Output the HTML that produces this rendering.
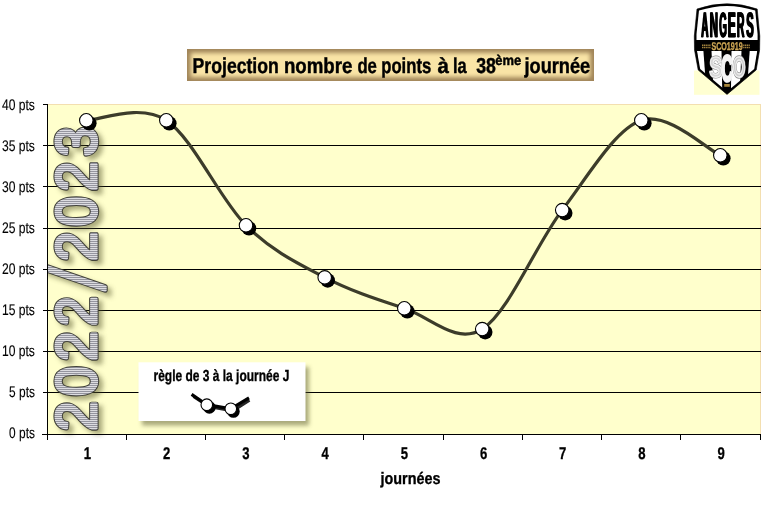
<!DOCTYPE html>
<html>
<head>
<meta charset="utf-8">
<title>Projection nombre de points</title>
<style>
html,body{margin:0;padding:0;background:#fff;}
body{width:771px;height:507px;overflow:hidden;font-family:"Liberation Sans",sans-serif;}
svg{display:block;will-change:transform;text-rendering:geometricPrecision;font-family:"Liberation Sans",sans-serif;}
</style>
</head>
<body>
<svg width="771" height="507" viewBox="0 0 771 507">
<defs>
  <pattern id="stripes" patternUnits="userSpaceOnUse" x="0" y="0" width="4" height="2" patternTransform="scale(1.0753,1) rotate(90)">
    <rect x="0" y="0" width="4" height="2" fill="#e4e4e8"/>
    <rect x="0" y="0" width="4" height="0.9" fill="#858590"/>
  </pattern>
  <clipPath id="plotclip"><rect x="48" y="100" width="720" height="345"/></clipPath>
  <filter id="softsh" x="-20%" y="-20%" width="150%" height="150%">
    <feGaussianBlur stdDeviation="2.9"/>
  </filter>
  <filter id="boxsh" x="-20%" y="-20%" width="150%" height="160%">
    <feGaussianBlur stdDeviation="2"/>
  </filter>
  <filter id="titleblur" x="-5%" y="-30%" width="110%" height="160%">
    <feGaussianBlur stdDeviation="2.1"/>
  </filter>
  <clipPath id="titleclip"><rect x="187" y="49" width="407" height="32"/></clipPath>
  <clipPath id="shieldclip"><path d="M696.6,30 L757.5,30 L757.4,50 L754.2,69 L727,91.6 L700.2,69 L696.7,50 Z"/></clipPath>
</defs>

<rect x="0" y="0" width="771" height="507" fill="#ffffff"/>

<!-- logo background -->
<rect x="694" y="70.5" width="65.5" height="24.3" fill="#ffffd2"/>

<!-- plot area -->
<rect x="47.5" y="104.5" width="713" height="330" fill="#ffffcc"/>
<line x1="47" y1="104.5" x2="761" y2="104.5" stroke="#f3dfb0" stroke-width="1"/>
<line x1="760.5" y1="104" x2="760.5" y2="435" stroke="#f3dfb0" stroke-width="1"/>

<!-- gridlines -->
<g shape-rendering="crispEdges">
<line x1="47.5" y1="392.5" x2="760.5" y2="392.5" stroke="#000" stroke-width="1"/>
<line x1="47.5" y1="351.5" x2="760.5" y2="351.5" stroke="#000" stroke-width="1"/>
<line x1="47.5" y1="310.5" x2="760.5" y2="310.5" stroke="#000" stroke-width="1"/>
<line x1="47.5" y1="269.5" x2="760.5" y2="269.5" stroke="#000" stroke-width="1"/>
<line x1="47.5" y1="228.5" x2="760.5" y2="228.5" stroke="#000" stroke-width="1"/>
<line x1="47.5" y1="186.5" x2="760.5" y2="186.5" stroke="#000" stroke-width="1"/>
<line x1="47.5" y1="145.5" x2="760.5" y2="145.5" stroke="#000" stroke-width="1"/>

</g>

<!-- vertical watermark text -->
<g clip-path="url(#plotclip)">
<g transform="translate(96.0,431) rotate(-90) scale(0.93,1)">
  <g filter="url(#softsh)" opacity="0.5" transform="translate(-4,4)" fill="#55552a" stroke="#55552a" stroke-width="5.0">
    <text font-size="57.2" x="0.11 37.74 75.38 113.01 182.47 220.11 257.74 295.38" y="0">20222023</text>
    <path d="M151.29,9.10 L155.27,9.10 L177.99,-52.00 L174.01,-52.00 Z"/>
  </g>
  <g fill="#42423a" stroke="#42423a" stroke-width="5.3" stroke-linejoin="round">
    <text font-size="57.2" x="0.11 37.74 75.38 113.01 182.47 220.11 257.74 295.38" y="0">20222023</text>
    <path d="M151.29,9.10 L155.27,9.10 L177.99,-52.00 L174.01,-52.00 Z"/>
  </g>
  <g fill="url(#stripes)" stroke="url(#stripes)" stroke-width="3.2" stroke-linejoin="round">
    <text font-size="57.2" x="0.11 37.74 75.38 113.01 182.47 220.11 257.74 295.38" y="0">20222023</text>
    <path d="M151.29,9.10 L155.27,9.10 L177.99,-52.00 L174.01,-52.00 Z"/>
  </g>
</g>
</g>

<!-- legend box -->
<rect x="142" y="367" width="167" height="58.5" fill="#55552a" opacity="0.5" filter="url(#boxsh)"/>
<rect x="138.5" y="362.3" width="167" height="58.7" fill="#ffffff"/>
<text x="153.5" y="381" font-size="16" font-weight="bold" textLength="135.8" lengthAdjust="spacingAndGlyphs" stroke="#000" stroke-width="0.35">règle de 3 à la journée J</text>
<path d="M193.5,396.5 L208.8,406.7 L232.8,410.8 L249.5,400.2" fill="none" stroke="#000" stroke-width="3" opacity="0.85"/>
<path d="M191.6,394.4 L206.8,404.7 L230.8,408.8 L249,397.8" fill="none" stroke="#000" stroke-width="3.2"/>
<circle cx="209.4" cy="407.4" r="6.3" fill="#000"/>
<circle cx="233.4" cy="411.5" r="6.3" fill="#000"/>
<circle cx="206.8" cy="404.7" r="5.8" fill="#fff" stroke="#000" stroke-width="1.1"/>
<circle cx="230.8" cy="408.8" r="5.8" fill="#fff" stroke="#000" stroke-width="1.1"/>

<!-- data line -->
<path d="M86.30,120.30 C99.63,120.30 139.68,102.80 166.30,120.30 C192.92,137.80 219.60,199.12 246.00,225.30 C272.40,251.48 298.32,263.57 324.70,277.40 C351.08,291.23 378.05,299.68 404.30,308.30 C430.55,316.92 455.88,345.47 482.20,329.10 C508.52,312.73 535.68,244.90 562.20,210.10 C588.72,175.30 614.95,129.43 641.30,120.30 C667.65,111.17 707.13,149.47 720.30,155.30" fill="none" stroke="#3c3c2a" stroke-width="3.2" stroke-linecap="round" stroke-linejoin="round"/>
<circle cx="89.30" cy="123.30" r="7.3" fill="#000"/>
<circle cx="169.30" cy="123.30" r="7.3" fill="#000"/>
<circle cx="249.00" cy="228.30" r="7.3" fill="#000"/>
<circle cx="327.70" cy="280.40" r="7.3" fill="#000"/>
<circle cx="407.30" cy="311.30" r="7.3" fill="#000"/>
<circle cx="485.20" cy="332.10" r="7.3" fill="#000"/>
<circle cx="565.20" cy="213.10" r="7.3" fill="#000"/>
<circle cx="644.30" cy="123.30" r="7.3" fill="#000"/>
<circle cx="723.30" cy="158.30" r="7.3" fill="#000"/>

<circle cx="86.30" cy="120.30" r="6.75" fill="#fff" stroke="#000" stroke-width="1.1"/>
<circle cx="166.30" cy="120.30" r="6.75" fill="#fff" stroke="#000" stroke-width="1.1"/>
<circle cx="246.00" cy="225.30" r="6.75" fill="#fff" stroke="#000" stroke-width="1.1"/>
<circle cx="324.70" cy="277.40" r="6.75" fill="#fff" stroke="#000" stroke-width="1.1"/>
<circle cx="404.30" cy="308.30" r="6.75" fill="#fff" stroke="#000" stroke-width="1.1"/>
<circle cx="482.20" cy="329.10" r="6.75" fill="#fff" stroke="#000" stroke-width="1.1"/>
<circle cx="562.20" cy="210.10" r="6.75" fill="#fff" stroke="#000" stroke-width="1.1"/>
<circle cx="641.30" cy="120.30" r="6.75" fill="#fff" stroke="#000" stroke-width="1.1"/>
<circle cx="720.30" cy="155.30" r="6.75" fill="#fff" stroke="#000" stroke-width="1.1"/>


<!-- axes -->
<g shape-rendering="crispEdges">
<line x1="47.5" y1="104" x2="47.5" y2="440" stroke="#000" stroke-width="1"/>
<line x1="42" y1="434.5" x2="761" y2="434.5" stroke="#000" stroke-width="1"/>
<line x1="42.5" y1="434.5" x2="47.5" y2="434.5" stroke="#000" stroke-width="1"/>
<line x1="42.5" y1="392.5" x2="47.5" y2="392.5" stroke="#000" stroke-width="1"/>
<line x1="42.5" y1="351.5" x2="47.5" y2="351.5" stroke="#000" stroke-width="1"/>
<line x1="42.5" y1="310.5" x2="47.5" y2="310.5" stroke="#000" stroke-width="1"/>
<line x1="42.5" y1="269.5" x2="47.5" y2="269.5" stroke="#000" stroke-width="1"/>
<line x1="42.5" y1="228.5" x2="47.5" y2="228.5" stroke="#000" stroke-width="1"/>
<line x1="42.5" y1="186.5" x2="47.5" y2="186.5" stroke="#000" stroke-width="1"/>
<line x1="42.5" y1="145.5" x2="47.5" y2="145.5" stroke="#000" stroke-width="1"/>
<line x1="42.5" y1="104.5" x2="47.5" y2="104.5" stroke="#000" stroke-width="1"/>

<line x1="47.5" y1="434.5" x2="47.5" y2="439.5" stroke="#000" stroke-width="1"/>
<line x1="126.5" y1="434.5" x2="126.5" y2="439.5" stroke="#000" stroke-width="1"/>
<line x1="205.5" y1="434.5" x2="205.5" y2="439.5" stroke="#000" stroke-width="1"/>
<line x1="284.5" y1="434.5" x2="284.5" y2="439.5" stroke="#000" stroke-width="1"/>
<line x1="363.5" y1="434.5" x2="363.5" y2="439.5" stroke="#000" stroke-width="1"/>
<line x1="443.5" y1="434.5" x2="443.5" y2="439.5" stroke="#000" stroke-width="1"/>
<line x1="522.5" y1="434.5" x2="522.5" y2="439.5" stroke="#000" stroke-width="1"/>
<line x1="601.5" y1="434.5" x2="601.5" y2="439.5" stroke="#000" stroke-width="1"/>
<line x1="680.5" y1="434.5" x2="680.5" y2="439.5" stroke="#000" stroke-width="1"/>
<line x1="760.5" y1="434.5" x2="760.5" y2="439.5" stroke="#000" stroke-width="1"/>

</g>
<g fill="#000">
<g stroke="#000" stroke-width="0.12">
<text x="9.1" y="438.3" textLength="25.8" lengthAdjust="spacingAndGlyphs" font-size="15.4">0 pts</text>
<text x="9.1" y="397.2" textLength="25.8" lengthAdjust="spacingAndGlyphs" font-size="15.4">5 pts</text>
<text x="1.9" y="356.2" textLength="33.0" lengthAdjust="spacingAndGlyphs" font-size="15.4">10 pts</text>
<text x="1.9" y="315.1" textLength="33.0" lengthAdjust="spacingAndGlyphs" font-size="15.4">15 pts</text>
<text x="1.9" y="274.1" textLength="33.0" lengthAdjust="spacingAndGlyphs" font-size="15.4">20 pts</text>
<text x="1.9" y="233.1" textLength="33.0" lengthAdjust="spacingAndGlyphs" font-size="15.4">25 pts</text>
<text x="1.9" y="192.0" textLength="33.0" lengthAdjust="spacingAndGlyphs" font-size="15.4">30 pts</text>
<text x="1.9" y="150.9" textLength="33.0" lengthAdjust="spacingAndGlyphs" font-size="15.4">35 pts</text>
<text x="1.9" y="109.9" textLength="33.0" lengthAdjust="spacingAndGlyphs" font-size="15.4">40 pts</text>
</g>
<text x="83.8" y="459" textLength="7.3" lengthAdjust="spacingAndGlyphs" font-size="17" font-weight="bold" stroke="#000" stroke-width="0.3">1</text>
<text x="163.0" y="459" textLength="7.3" lengthAdjust="spacingAndGlyphs" font-size="17" font-weight="bold" stroke="#000" stroke-width="0.3">2</text>
<text x="242.2" y="459" textLength="7.3" lengthAdjust="spacingAndGlyphs" font-size="17" font-weight="bold" stroke="#000" stroke-width="0.3">3</text>
<text x="321.4" y="459" textLength="7.3" lengthAdjust="spacingAndGlyphs" font-size="17" font-weight="bold" stroke="#000" stroke-width="0.3">4</text>
<text x="400.7" y="459" textLength="7.3" lengthAdjust="spacingAndGlyphs" font-size="17" font-weight="bold" stroke="#000" stroke-width="0.3">5</text>
<text x="479.9" y="459" textLength="7.3" lengthAdjust="spacingAndGlyphs" font-size="17" font-weight="bold" stroke="#000" stroke-width="0.3">6</text>
<text x="559.1" y="459" textLength="7.3" lengthAdjust="spacingAndGlyphs" font-size="17" font-weight="bold" stroke="#000" stroke-width="0.3">7</text>
<text x="638.3" y="459" textLength="7.3" lengthAdjust="spacingAndGlyphs" font-size="17" font-weight="bold" stroke="#000" stroke-width="0.3">8</text>
<text x="717.5" y="459" textLength="7.3" lengthAdjust="spacingAndGlyphs" font-size="17" font-weight="bold" stroke="#000" stroke-width="0.3">9</text>

<text x="380.5" y="483.8" font-size="16.6" font-weight="bold" textLength="59.9" lengthAdjust="spacingAndGlyphs" stroke="#000" stroke-width="0.35">journées</text>
</g>

<!-- title -->
<rect x="187" y="49" width="407" height="32" fill="#a08458"/>
<g clip-path="url(#titleclip)">
  <rect x="190.8" y="52.8" width="399.4" height="24.4" fill="#f9e4a6" filter="url(#titleblur)"/>
</g>
<g font-weight="bold" font-size="21.6" fill="#000" stroke="#000" stroke-width="0.45">
  <text x="192.60" y="73.2" textLength="86.20" lengthAdjust="spacingAndGlyphs">Projection</text>
  <text x="283.90" y="73.2" textLength="68.50" lengthAdjust="spacingAndGlyphs">nombre</text>
  <text x="357.40" y="73.2" textLength="19.50" lengthAdjust="spacingAndGlyphs">de</text>
  <text x="381.30" y="73.2" textLength="49.90" lengthAdjust="spacingAndGlyphs">points</text>
  <text x="437.40" y="73.2" textLength="11.40" lengthAdjust="spacingAndGlyphs">à</text>
  <text x="452.90" y="73.2" textLength="13.70" lengthAdjust="spacingAndGlyphs">la</text>
  <text x="476.20" y="73.2" textLength="19.70" lengthAdjust="spacingAndGlyphs">38</text>
  <text x="495.30" y="64.6" font-size="14" textLength="25.90" lengthAdjust="spacingAndGlyphs">ème</text>
  <text x="524.50" y="73.2" textLength="65.70" lengthAdjust="spacingAndGlyphs">journée</text>
</g>

<!-- logo -->
<g>
  <path d="M697,9 Q727,-1.4 757.2,9 L759.8,36 L759.6,50 L756.2,70 L727,94.4 L698.2,70 L694.5,50 L694.3,36 Z" fill="#000" stroke="#000" stroke-width="0.6" stroke-linejoin="round"/>
  <path d="M699,10.6 Q727,1.2 755.2,10.6 L757.6,34 L757.6,40 L696.5,40 L696.5,34 Z" fill="#fff"/>
  <g clip-path="url(#shieldclip)">
    <polygon points="697.0,51 703.4,51 706.7,95 701.2,95" fill="#fff"/>
    <polygon points="711.5,51 721.5,51 722.3,95 713.7,95" fill="#fff"/>
    <polygon points="731.5,51 741.5,51 739.5,95 730.9,95" fill="#fff"/>
    <polygon points="749.7,51 757.4,51 753.1,95 746.5,95" fill="#fff"/>
  </g>
  <g font-size="35.2" font-weight="bold" fill="#000" stroke="#000" stroke-width="0.4" stroke-linejoin="round">
    <text x="700.85" y="37.0" textLength="7.21" lengthAdjust="spacingAndGlyphs">A</text>
    <text x="701.30" y="37.0" textLength="7.21" lengthAdjust="spacingAndGlyphs">A</text>
    <text x="701.75" y="37.0" textLength="7.21" lengthAdjust="spacingAndGlyphs">A</text>
    <text x="709.34" y="37.0" textLength="8.23" lengthAdjust="spacingAndGlyphs">N</text>
    <text x="709.79" y="37.0" textLength="8.23" lengthAdjust="spacingAndGlyphs">N</text>
    <text x="710.24" y="37.0" textLength="8.23" lengthAdjust="spacingAndGlyphs">N</text>
    <text x="718.69" y="37.0" textLength="7.72" lengthAdjust="spacingAndGlyphs">G</text>
    <text x="719.14" y="37.0" textLength="7.72" lengthAdjust="spacingAndGlyphs">G</text>
    <text x="719.59" y="37.0" textLength="7.72" lengthAdjust="spacingAndGlyphs">G</text>
    <text x="727.30" y="37.0" textLength="7.97" lengthAdjust="spacingAndGlyphs">E</text>
    <text x="727.75" y="37.0" textLength="7.97" lengthAdjust="spacingAndGlyphs">E</text>
    <text x="728.20" y="37.0" textLength="7.97" lengthAdjust="spacingAndGlyphs">E</text>
    <text x="736.39" y="37.0" textLength="7.62" lengthAdjust="spacingAndGlyphs">R</text>
    <text x="736.84" y="37.0" textLength="7.62" lengthAdjust="spacingAndGlyphs">R</text>
    <text x="737.29" y="37.0" textLength="7.62" lengthAdjust="spacingAndGlyphs">R</text>
    <text x="745.78" y="37.0" textLength="7.46" lengthAdjust="spacingAndGlyphs">S</text>
    <text x="746.23" y="37.0" textLength="7.46" lengthAdjust="spacingAndGlyphs">S</text>
    <text x="746.68" y="37.0" textLength="7.46" lengthAdjust="spacingAndGlyphs">S</text>
  </g>
  <text x="711.4" y="50.3" font-size="11.2" font-weight="bold" textLength="31.2" lengthAdjust="spacingAndGlyphs" fill="#cda654" stroke="#cda654" stroke-width="0.35">SCO1919</text>
  <path d="M702,45.2 H710.8 M702,47.6 H710.8 M743.2,45.2 H749.8 M743.2,47.6 H749.8" stroke="#a4843e" stroke-width="1.5" stroke-dasharray="1.3,0.5" fill="none"/>
  <text transform="translate(709.23,77.01) scale(0.6566,0.9652)" x="0" y="0" font-size="30" font-weight="bold" fill="#8a8a8a" stroke="#8a8a8a" stroke-width="2.6" stroke-linejoin="round">S</text>
  <text transform="translate(709.23,77.01) scale(0.6566,0.9652)" x="0" y="0" font-size="30" font-weight="bold" fill="#d6d6d6" stroke="#f6f6f6" stroke-width="1.3" stroke-linejoin="round">S</text>
  <text transform="translate(732.73,77.01) scale(0.5468,0.9652)" x="0" y="0" font-size="30" font-weight="bold" fill="#8a8a8a" stroke="#8a8a8a" stroke-width="3.0" stroke-linejoin="round">O</text>
  <text transform="translate(732.73,77.01) scale(0.5468,0.9652)" x="0" y="0" font-size="30" font-weight="bold" fill="#cecece" stroke="#f2f2f2" stroke-width="1.6" stroke-linejoin="round">O</text>
  <text transform="translate(721.35,80.83) scale(0.5301,1.2194)" x="0" y="0" font-size="30" font-weight="bold" fill="#f4f4f4" stroke="#f4f4f4" stroke-width="2.4" stroke-linejoin="round">C</text>
  <rect x="724.2" y="84" width="5.6" height="2.8" fill="#a8873c"/>
</g>
</svg>
</body>
</html>
